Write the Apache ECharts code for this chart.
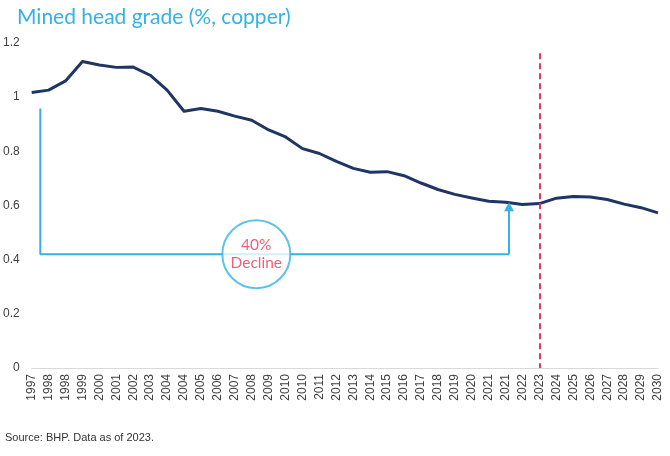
<!DOCTYPE html>
<html>
<head>
<meta charset="utf-8">
<script src="https://cdn.jsdelivr.net/npm/echarts@6/dist/echarts.min.js"></script>
<style>
html,body{margin:0;padding:0;background:#fff;}
#chart{width:670px;height:456px;}
</style>
</head>
<body>
<div id="chart"></div>
<script>
// year labels as printed under the axis
var years = ['1997','1998','1998','1999','2000','2001','2002','2003','2004','2004','2005','2006','2007','2008','2009','2010','2010','2011','2012',
             '2013','2014','2015','2016','2017','2018','2019','2020','2021','2021','2022','2023','2024','2025','2026','2027','2028','2029','2030'];
// mined head grade, % copper
var grade = [1.017,1.026,1.06,1.132,1.119,1.11,1.111,1.081,1.026,0.948,0.958,0.948,0.93,0.915,0.879,0.853,0.81,0.792,0.763,
             0.737,0.723,0.725,0.71,0.683,0.659,0.641,0.628,0.616,0.612,0.604,0.607,0.627,0.633,0.631,0.622,0.605,0.592,0.573];
var yTicks = [0, 0.2, 0.4, 0.6, 0.8, 1, 1.2];
var forecastStart = 30;          // index of 2023
// 40% decline bracket, [index, value]
var bracketLeft = [[0.51, 0.958], [0.51, 0.42]];
var bracketBottom = [[0.51, 0.42], [28.2, 0.42]];
var bracketArrow = [[28.2, 0.42], [28.2, 0.595]];
var declineBadge = [[13.27, 0.42]];

var chart = echarts.init(document.getElementById('chart'));
var blue = '#35b1e3';
var option = {
    animation: false,
    title: {
        text: 'Mined head grade (%, copper)',
        left: 12, top: 2,
        textStyle: {color: blue, fontFamily: 'Lato', fontWeight: 'normal', fontSize: 21}
    },
    graphic: [{
        type: 'text', left: 5, top: 432,
        style: {text: 'Source: BHP. Data as of 2023.', fill: '#333', font: '11px "Liberation Sans"'}
    }],
    grid: {left: 31, right: 12, top: 43, bottom: 88},
    xAxis: [{
        type: 'category',
        data: years,
        boundaryGap: false,
        axisLine: {lineStyle: {color: '#d9d9d9', width: 1}},
        axisTick: {show: false},
        axisLabel: {interval: 0, rotate: 90, color: '#404040', fontFamily: 'Liberation Sans', fontSize: 12, margin: 6}
    }, {
        type: 'value', min: 0, max: years.length - 1, show: false
    }],
    yAxis: {
        type: 'value', min: yTicks[0], max: yTicks[yTicks.length - 1], interval: 0.2,
        axisLine: {show: false}, axisTick: {show: false}, splitLine: {show: false},
        axisLabel: {color: '#404040', fontFamily: 'Liberation Sans', fontSize: 12, margin: 12,
            formatter: function (v) { return String(+v.toFixed(1)); }}
    },
    series: [{
        type: 'line',
        data: grade,
        symbol: 'none',
        lineStyle: {color: '#1f3564', width: 3, join: 'round'},
        z: 3,
        markLine: {
            silent: true, symbol: 'none', label: {show: false},
            lineStyle: {color: '#e33b55', type: [6, 4], width: 2},
            data: [[{coord: [forecastStart, 1.162]}, {coord: [forecastStart, 0]}]]
        }
    }, {
        type: 'line', xAxisIndex: 1, data: bracketLeft.concat(bracketBottom.slice(1)),
        symbol: 'none', lineStyle: {color: blue, width: 2}, z: 2, silent: true
    }, {
        type: 'line', xAxisIndex: 1, data: [], z: 2,
        markLine: {
            silent: true, symbol: ['none', 'triangle'], symbolSize: [10, 9], label: {show: false},
            lineStyle: {color: blue, type: 'solid', width: 2},
            data: [[{coord: bracketArrow[0]}, {coord: bracketArrow[1]}]]
        }
    }, {
        type: 'scatter', xAxisIndex: 1, data: declineBadge, z: 5, silent: true,
        symbol: 'circle', symbolSize: 68,
        itemStyle: {color: '#fff', borderColor: blue, borderWidth: 2},
        label: {show: true, position: 'inside', formatter: '40%\nDecline', color: '#e33b55',
            fontFamily: 'Lato', fontSize: 15.5, lineHeight: 18}
    }]
};
chart.setOption(option);
</script>
</body>
</html>
